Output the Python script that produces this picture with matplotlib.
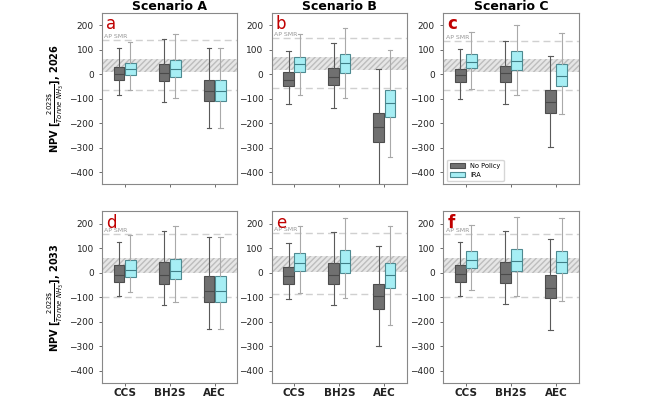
import numpy as np
import matplotlib.pyplot as plt
from matplotlib.patches import Patch

techs = ["CCS", "BH2S", "AEC"]
scenarios = ["Scenario A", "Scenario B", "Scenario C"]
letters = ["a", "b", "c", "d", "e", "f"]
years = ["2026", "2033"]

# box stats per panel: [whislo, q1, med, q3, whishi] for CCS, BH2S, AEC
nopol = {
    "a": [[-84, -26, 0, 28, 107], [-114, -27, 4, 40, 142], [-219, -112, -68, -24, 105]],
    "b": [[-123, -49, -23, 7, 92], [-138, -43, -12, 24, 128], [-470, -276, -215, -158, 19]],
    "c": [[-101, -31, -5, 22, 103], [-123, -31, 4, 34, 136], [-296, -157, -115, -65, 72]],
    "d": [[-96, -38, -9, 31, 126], [-131, -47, -9, 42, 172], [-231, -120, -73, -12, 146]],
    "e": [[-108, -45, -12, 23, 122], [-131, -47, -9, 38, 165], [-299, -146, -96, -46, 108]],
    "f": [[-93, -36, -5, 30, 127], [-127, -43, -5, 42, 170], [-235, -104, -61, -9, 139]],
}
ira = {
    "a": [[-64, -5, 20, 47, 130], [-97, -12, 22, 58, 162], [-219, -112, -68, -24, 105]],
    "b": [[-86, 7, 40, 69, 162], [-99, 4, 45, 81, 189], [-338, -174, -118, -64, 100]],
    "c": [[-61, 24, 51, 82, 170], [-84, 18, 54, 92, 199], [-162, -47, -7, 41, 169]],
    "d": [[-77, -18, 11, 51, 153], [-118, -27, 9, 58, 191], [-231, -120, -73, -12, 146]],
    "e": [[-81, 9, 41, 81, 189], [-104, 0, 41, 91, 222], [-215, -62, -11, 38, 192]],
    "f": [[-69, 19, 50, 88, 193], [-96, 8, 47, 95, 227], [-114, 0, 42, 89, 224]],
}
# shaded band (low, high) and dashed AP SMR lines (upper, lower)
band = {"a": (8, 61), "b": (15, 69), "c": (8, 61), "d": (-3, 61), "e": (5, 69), "f": (-3, 62)}
smr = {"a": (139, -66), "b": (146, -58), "c": (135, -66), "d": (157, -99), "e": (162, -88), "f": (157, -97)}

def stats(rows):
    return [dict(whislo=r[0], q1=r[1], med=r[2], q3=r[3], whishi=r[4], fliers=[]) for r in rows]

fig = plt.figure(figsize=(6.5, 3.99), dpi=100)
lefts = [0.157, 0.418, 0.682]
bottoms = [0.538, 0.040]
w, h = 0.208, 0.430

x = np.arange(3)
for r in range(2):
    for c in range(3):
        k = letters[r * 3 + c]
        ax = fig.add_axes([lefts[c], bottoms[r], w, h])
        lo, hi = band[k]
        ax.axhspan(lo, hi, facecolor="#e6e6e6", edgecolor="#bdbdbd", hatch="//////", lw=0, zorder=0)
        ax.axhline(smr[k][0], color="#d0d0d0", ls="--", lw=1, dashes=(5, 3), zorder=0)
        ax.axhline(smr[k][1], color="#d0d0d0", ls="--", lw=1, dashes=(5, 3), zorder=0)
        ax.text(-0.45, smr[k][0] + 4, "AP SMR", fontsize=4.5, color="#999999", va="bottom")

        ax.bxp(stats(nopol[k]), positions=x - 0.125, widths=0.24, patch_artist=True,
               showfliers=False,
               boxprops=dict(facecolor="#707070", edgecolor="#4d4d4d", lw=0.8),
               medianprops=dict(color="#4a4a4a", lw=0.8),
               whiskerprops=dict(color="#5a5a5a", lw=0.8),
               capprops=dict(color="#5a5a5a", lw=0.8), capwidths=0.1)
        ax.bxp(stats(ira[k]), positions=x + 0.125, widths=0.24, patch_artist=True,
               showfliers=False,
               boxprops=dict(facecolor="#a6eef4", edgecolor="#4e8a91", lw=0.8),
               medianprops=dict(color="#3f7f87", lw=0.8),
               whiskerprops=dict(color="#a9a9a9", lw=0.8),
               capprops=dict(color="#a9a9a9", lw=0.8), capwidths=0.1)

        ax.set_xlim(-0.5, 2.5)
        ax.set_ylim(-450, 250)
        ax.set_yticks([200, 100, 0, -100, -200, -300, -400])
        ax.tick_params(labelsize=6.5, length=2.5, width=0.6, color="#555555", labelcolor="#222222")
        ax.tick_params(axis="x", pad=0.8)
        ax.set_xticks(x)
        if r == 1:
            ax.set_xticklabels(techs, fontsize=7.5, fontweight="bold")
        else:
            ax.set_xticklabels([])
        for s in ax.spines.values():
            s.set_color("#888888")
            s.set_linewidth(0.8)
        ax.text(0.03, 0.985, k, transform=ax.transAxes, fontsize=12, color="#c00000",
                va="top", ha="left", fontweight="bold" if k in "cf" else "normal")
        if r == 0:
            ax.set_title(scenarios[c], fontsize=9, fontweight="bold", pad=2)
        if c == 0:
            ax.set_ylabel(r"NPV [$\frac{2023\$}{Tonne\ NH_3}$], " + years[r],
                          fontsize=7, fontweight="bold", labelpad=2)
        if k == "c":
            handles = [Patch(facecolor="#707070", edgecolor="#4d4d4d", lw=0.8),
                       Patch(facecolor="#a6eef4", edgecolor="#4e8a91", lw=0.8)]
            ax.legend(handles, ["No Policy", "IRA"], loc="lower left", fontsize=4.8,
                      frameon=True, handlelength=2.2, borderpad=0.5, labelspacing=0.4)

fig.savefig("out.png", dpi=100)
